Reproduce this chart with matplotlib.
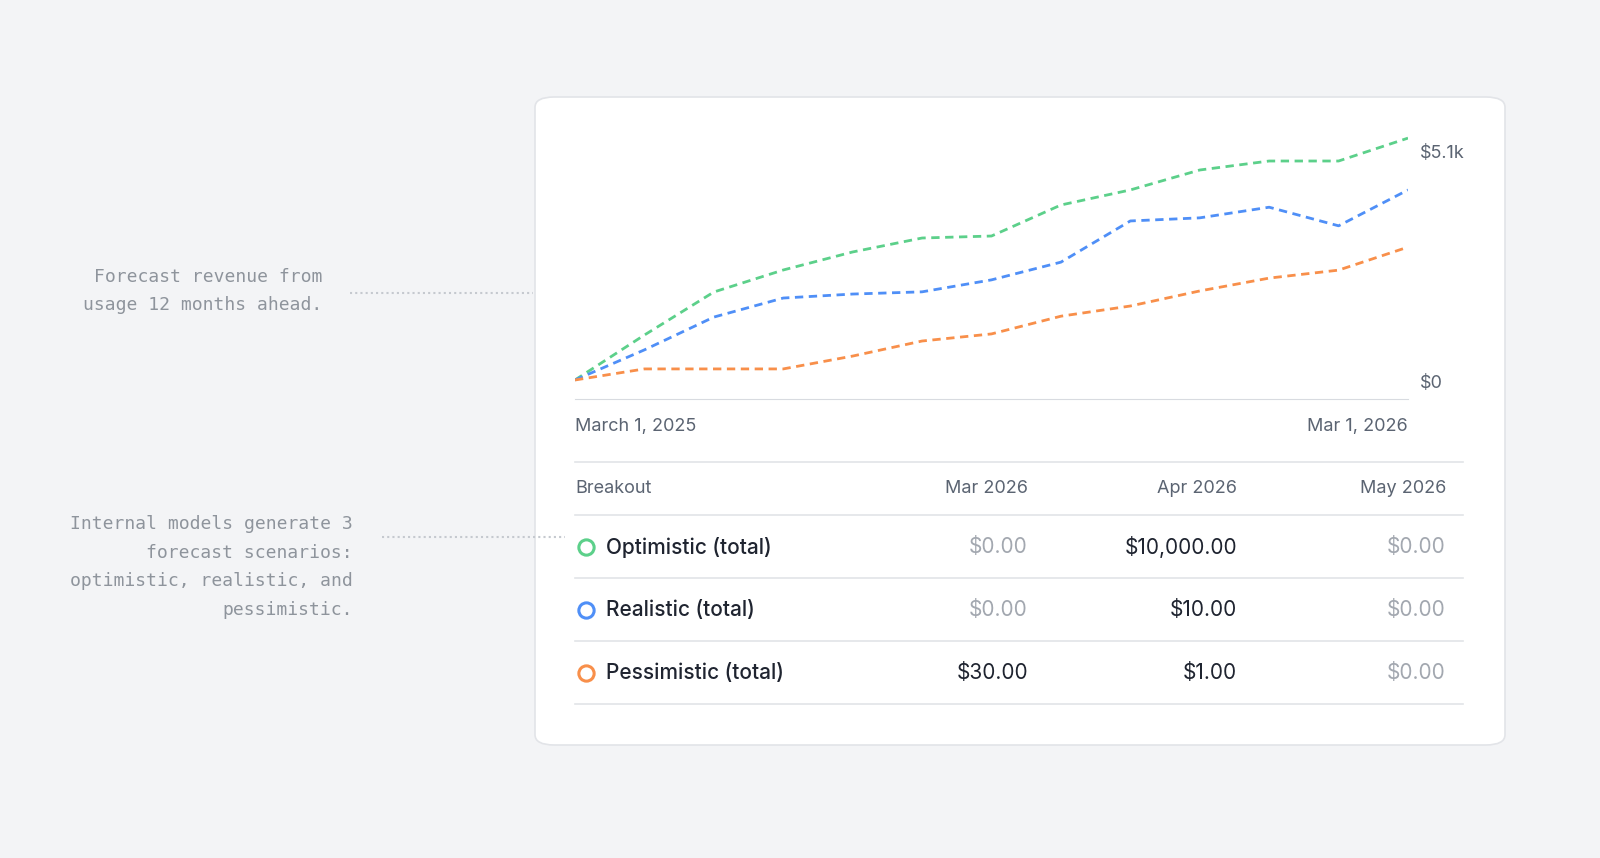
import matplotlib.pyplot as plt
from matplotlib.patches import FancyBboxPatch
from matplotlib.lines import Line2D

plt.rcParams['font.family'] = ['Inter', 'DejaVu Sans']

months = list(range(13))
optimistic = [0, 1015, 1986, 2483, 2890, 3205, 3250, 3950, 4290, 4740, 4943, 4943, 5460]
realistic = [0, 680, 1420, 1850, 1940, 1990, 2260, 2660, 3590, 3660, 3900, 3480, 4290]
pessimistic = [0, 250, 250, 250, 540, 880, 1040, 1440, 1670, 2010, 2300, 2480, 3000]
x_labels = ["March 1, 2025", "Mar 1, 2026"]
y_labels = ["$5.1k", "$0"]
cols = ["Breakout", "Mar 2026", "Apr 2026", "May 2026"]
rows = ["Optimistic (total)", "Realistic (total)", "Pessimistic (total)"]
vals = [["$0.00", "$10,000.00", "$0.00"], ["$0.00", "$10.00", "$0.00"], ["$30.00", "$1.00", "$0.00"]]
colors = ["#5cd08a", "#4f8ff7", "#f88f4a"]

W, H = 1600, 858
fig = plt.figure(figsize=(16, 8.58), dpi=100, facecolor="#f3f4f6")
def fx(x): return x / W
def fy(y): return 1 - y / H

card = FancyBboxPatch((fx(535), fy(745)), fx(970), (745 - 97) / H,
                      boxstyle="round,pad=0,rounding_size=0.012", transform=fig.transFigure,
                      facecolor="white", edgecolor="#e2e4e8", lw=1.2, zorder=0)
fig.patches.append(card)

ax = fig.add_axes([fx(575), fy(399), fx(1408 - 575), (399 - 130) / H])
ax.set_zorder(3)
ax.set_facecolor("none")
for s, c in zip([optimistic, realistic, pessimistic], colors):
    ax.plot(months, s, color=c, ls=(0, (3, 2)), lw=2)
ax.set_xlim(0, 12)
ax.set_ylim(-429, 5643)
for k in ["top", "right", "left"]:
    ax.spines[k].set_visible(False)
ax.spines["bottom"].set_color("#d8dbe0")
ax.set_xticks([]); ax.set_yticks([])

tc = "#5b6472"
fig.text(fx(1420), fy(154), y_labels[0], fontsize=13, color=tc, va="center")
fig.text(fx(1420), fy(384), y_labels[1], fontsize=13, color=tc, va="center")
fig.text(fx(575), fy(427), x_labels[0], fontsize=13, color=tc, va="center")
fig.text(fx(1408), fy(427), x_labels[1], fontsize=13, color=tc, va="center", ha="right")

def hline(y, x0=575, x1=1463, c="#e2e4e8"):
    fig.add_artist(Line2D([fx(x0), fx(x1)], [fy(y), fy(y)], color=c, lw=1.2))
hline(462)
colx = [1028, 1237, 1446]
fig.text(fx(575), fy(489), cols[0], fontsize=13, color=tc, va="center")
for x, c in zip(colx, cols[1:]):
    fig.text(fx(x), fy(489), c, fontsize=13, color=tc, va="center", ha="right")
hline(515)
for i, (r, v, c) in enumerate(zip(rows, vals, colors)):
    y = 547 + 63 * i
    fig.add_artist(Line2D([fx(586)], [fy(y)], marker="o", ms=11, mfc="white", mec=c, mew=2.2))
    fig.text(fx(606), fy(y), r, fontsize=15, color="#1f2430", va="center", weight="medium")
    for x, t in zip(colx, v):
        col = "#a3a8b0" if t == "$0.00" else "#1f2430"
        fig.text(fx(x), fy(y), t, fontsize=15, color=col, va="center", ha="right")
    hline(y + 31)

mono = "DejaVu Sans Mono"
ac = "#8e949c"
fig.text(fx(322), fy(291), "Forecast revenue from\nusage 12 months ahead.", family=mono,
         fontsize=13, color=ac, ha="right", va="center", multialignment="right", linespacing=1.75)
fig.add_artist(Line2D([fx(350), fx(533)], [fy(293)] * 2, color="#c5c9cf", lw=1.5, ls=(0, (1, 1.5))))
fig.text(fx(353), fy(567), "Internal models generate 3\nforecast scenarios:\noptimistic, realistic, and\npessimistic.",
         family=mono, fontsize=13, color=ac, ha="right", va="center", multialignment="right", linespacing=1.75)
fig.add_artist(Line2D([fx(382), fx(565)], [fy(537)] * 2, color="#c5c9cf", lw=1.5, ls=(0, (1, 1.5))))

fig.savefig("out.png", dpi=100, facecolor=fig.get_facecolor())
